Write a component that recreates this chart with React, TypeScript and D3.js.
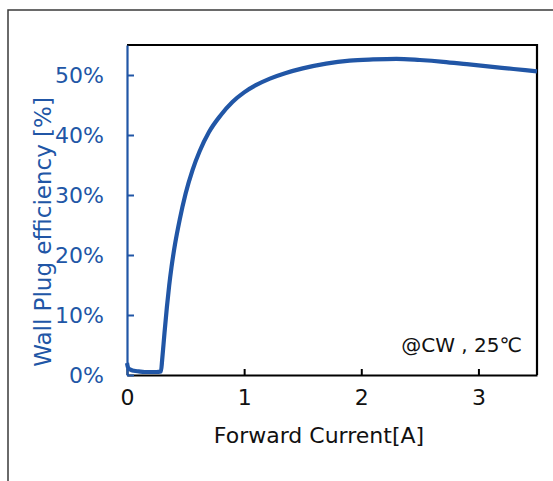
import { useEffect, useRef } from 'react'
import * as d3 from 'd3'

// forward current [A] and wall plug efficiency [%]
const current = [
  0, 0.01, 0.03, 0.06, 0.1, 0.15, 0.2, 0.25, 0.29, 0.3, 0.32, 0.34, 0.36, 0.38, 0.41,
  0.45, 0.5, 0.56, 0.62, 0.7, 0.8, 0.9, 1.0, 1.1, 1.22, 1.35, 1.5, 1.7, 1.9, 2.1, 2.3,
  2.5, 2.7, 2.9, 3.1, 3.3, 3.5,
]
const wpe = [
  2.0, 1.2, 0.9, 0.7, 0.6, 0.5, 0.5, 0.5, 0.6, 2.5, 7.0, 11.2, 14.9, 18.0, 21.8, 25.9,
  30.2, 34.2, 37.3, 40.5, 43.3, 45.5, 47.1, 48.3, 49.4, 50.3, 51.1, 51.9, 52.4, 52.6,
  52.7, 52.5, 52.2, 51.8, 51.4, 51.0, 50.6,
]
const xTicks = [0, 1, 2, 3]
const yTicks = [0, 10, 20, 30, 40, 50]

const WIDTH = 553
const HEIGHT = 481
const BLUE = '#2156a6'
const FONT = '"DejaVu Sans", Verdana, sans-serif'

export default function App() {
  const svgRef = useRef<SVGSVGElement>(null)

  useEffect(() => {
    if (!svgRef.current) return
    const svg = d3.select(svgRef.current)
    svg.selectAll('*').remove()

    const left = 127
    const right = 537
    const top = 45
    const bottom = 375

    const x = d3.scaleLinear().domain([0, 3.5]).range([left, right])
    const y = d3.scaleLinear().domain([0, 55]).range([bottom, top])

    // outer frame (only top/left edges visible in the crop)
    svg
      .append('rect')
      .attr('x', 8)
      .attr('y', 10)
      .attr('width', 700)
      .attr('height', 700)
      .attr('fill', 'none')
      .attr('stroke', '#3a3a3a')
      .attr('stroke-width', 1.5)

    // top + right spines
    svg
      .append('path')
      .attr('d', `M${left},${top}H${right}V${bottom}`)
      .attr('fill', 'none')
      .attr('stroke', '#000')
      .attr('stroke-width', 2.2)

    // bottom axis
    const xAxis = svg
      .append('g')
      .attr('transform', `translate(0,${bottom})`)
      .call(
        d3
          .axisBottom(x)
          .tickValues(xTicks)
          .tickFormat(d3.format('d'))
          .tickSizeInner(-6)
          .tickSizeOuter(0)
          .tickPadding(14)
      )
    xAxis.select('.domain').attr('stroke', '#000').attr('stroke-width', 2.2)
    xAxis.selectAll('.tick line').attr('stroke', '#000').attr('stroke-width', 2)
    xAxis
      .selectAll('.tick text')
      .attr('fill', '#111')
      .attr('font-size', 22)
      .attr('font-family', FONT)
      .attr('dy', '0.71em')

    // left axis (blue)
    const yAxis = svg
      .append('g')
      .attr('transform', `translate(${left},0)`)
      .call(
        d3
          .axisLeft(y)
          .tickValues(yTicks)
          .tickFormat((d) => `${d}%`)
          .tickSizeInner(-7)
          .tickSizeOuter(0)
          .tickPadding(23)
      )
    yAxis.select('.domain').attr('stroke', BLUE).attr('stroke-width', 2.2)
    yAxis.selectAll('.tick line').attr('stroke', BLUE).attr('stroke-width', 2)
    yAxis
      .selectAll('.tick text')
      .attr('fill', BLUE)
      .attr('font-size', 22)
      .attr('font-family', FONT)

    // curve
    const line = d3
      .line<number>()
      .x((_, i) => x(current[i]))
      .y((d) => y(d))
      .curve(d3.curveMonotoneX)
    svg
      .append('path')
      .datum(wpe)
      .attr('d', line)
      .attr('fill', 'none')
      .attr('stroke', BLUE)
      .attr('stroke-width', 4.2)
      .attr('stroke-linejoin', 'round')

    // axis titles
    svg
      .append('text')
      .attr('x', 319)
      .attr('y', 443)
      .attr('text-anchor', 'middle')
      .attr('font-size', 22)
      .attr('font-family', FONT)
      .attr('fill', '#111')
      .text('Forward Current[A]')

    svg
      .append('text')
      .attr('transform', 'translate(51,232) rotate(-90)')
      .attr('text-anchor', 'middle')
      .attr('font-size', 23)
      .attr('font-family', FONT)
      .attr('fill', BLUE)
      .text('Wall Plug efficiency [%]')

    // condition note
    svg
      .append('text')
      .attr('x', 522)
      .attr('y', 352)
      .attr('text-anchor', 'end')
      .attr('font-size', 20)
      .attr('font-family', FONT)
      .attr('fill', '#111')
      .text('@CW , 25℃')
  }, [])

  return (
    <svg
      ref={svgRef}
      width={WIDTH}
      height={HEIGHT}
      style={{ position: 'absolute', left: 0, top: 0, display: 'block', background: '#fff' }}
    />
  )
}
